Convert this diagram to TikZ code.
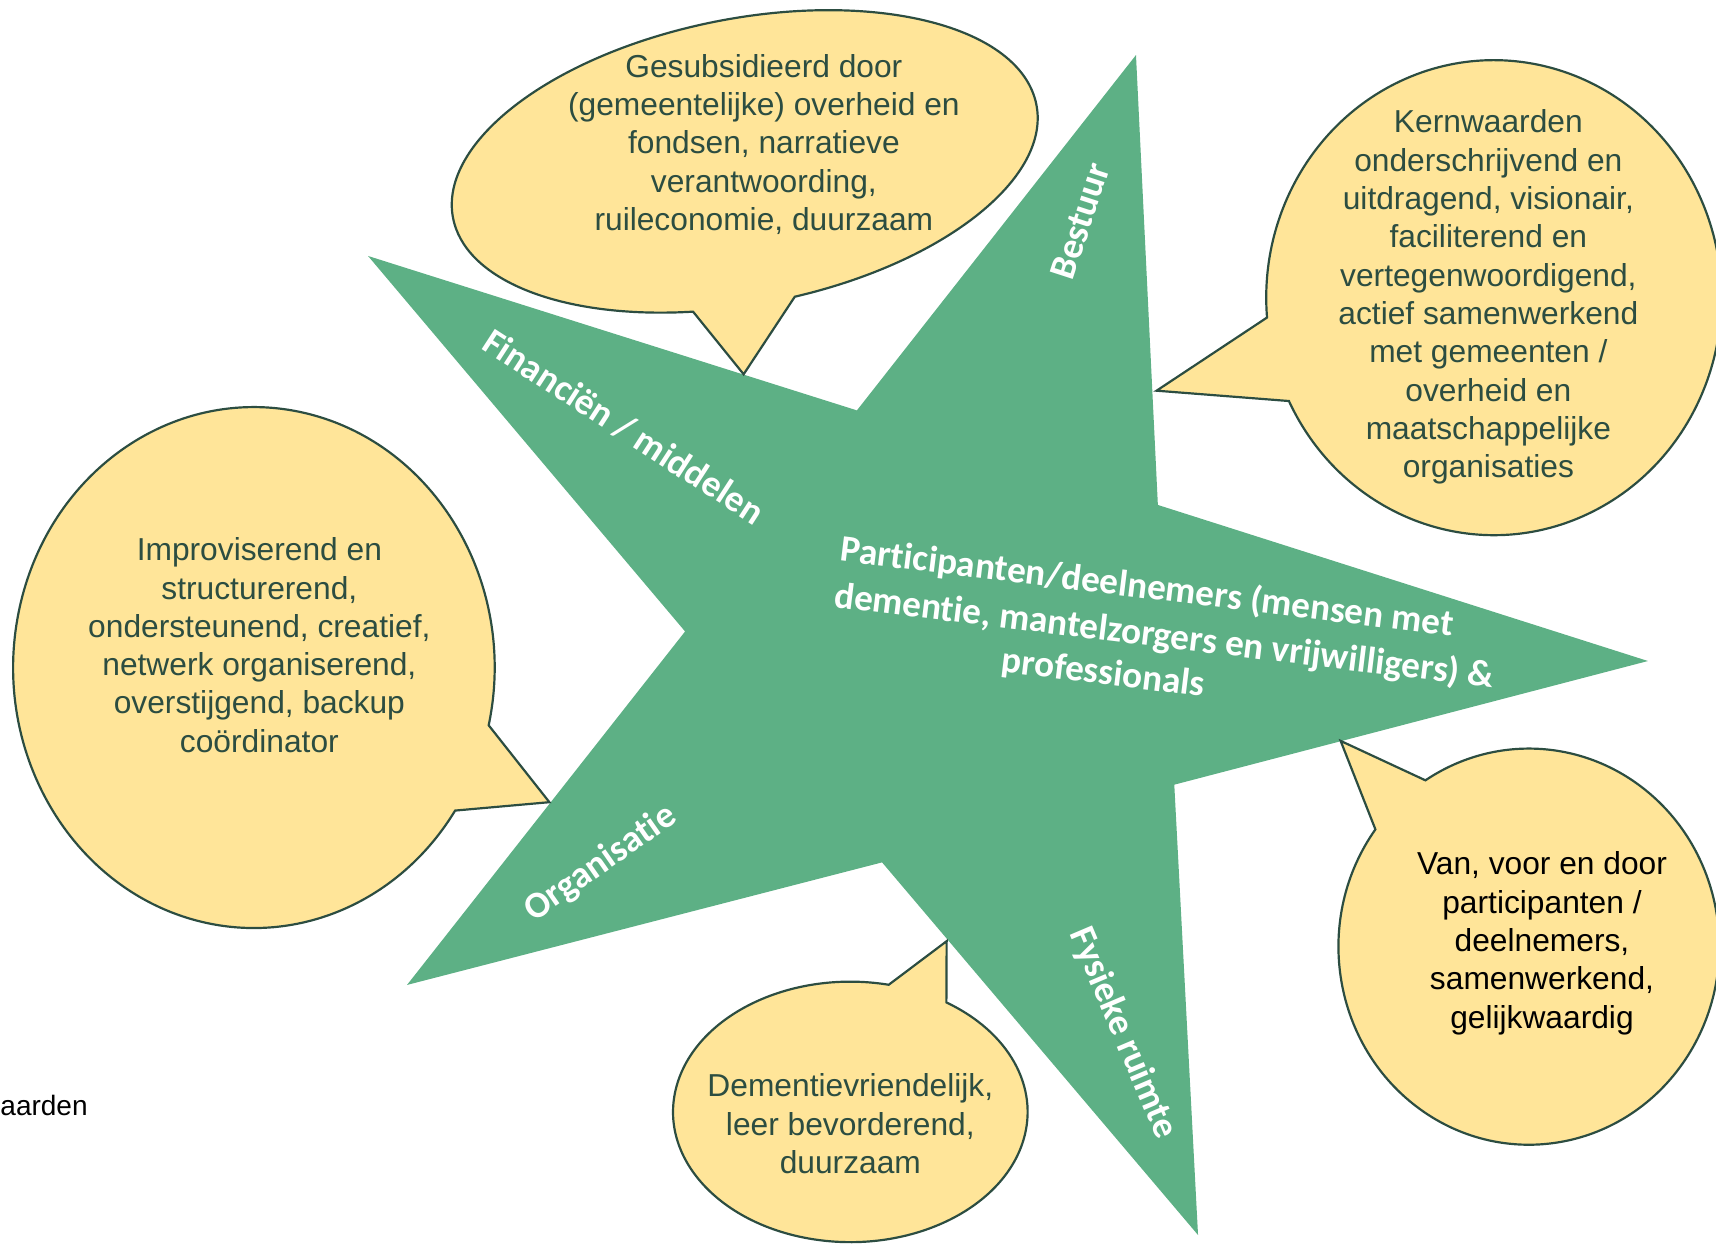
\documentclass[tikz,border=0pt]{standalone}
\usepackage{fontspec}
\setmainfont{Liberation Sans}
\newfontfamily\labelfont{Carlito}[Ligatures={NoCommon}]
\definecolor{stargreen}{RGB}{93,176,133}
\definecolor{bubblefill}{RGB}{255,229,153}
\definecolor{bubbleline}{RGB}{44,77,65}
\begin{document}
\begin{tikzpicture}[x=0.5pt,y=0.5pt,
  bubble/.style={fill=bubblefill, draw=bubbleline, line width=1pt, line join=miter},
  bubbletext/.style={align=center, text=bubbleline, font=\fontsize{14.5}{17.5}\selectfont, inner sep=0pt},
  starlabel/.style={text=white, font=\labelfont\bfseries\fontsize{17}{20}\selectfont, inner sep=0pt}]
\useasboundingbox (0,0) rectangle (1568,1137);

% star
\fill[stargreen] (1038,1086.7) -- (1058,675.6) -- (1505.8,533) -- (1073,420) -- (1094.7,8.5)
  -- (806,349) -- (371.9,237) -- (626,560) -- (336.3,903.1) -- (783,762) -- cycle;

% tail tips
\coordinate (tipA) at (679.5,795);
\coordinate (tipB) at (1056.8,780);
\coordinate (tipC) at (502,404);
\coordinate (tipD) at (865,277);
\coordinate (tipE) at (1225,460);

% bubbles
\begin{scope}[shift={(680.5,989.5)}, rotate=11]
  \draw[bubble] (-85.5:271.5 and 130.5) arc[start angle=-85.5, end angle=254.5, x radius=271.5, y radius=130.5] -- (tipA) -- cycle;
\end{scope}
\begin{scope}[shift={(1365,865)}]
  \draw[bubble] (205.8:208 and 217) arc[start angle=205.8, end angle=544.8, x radius=208, y radius=217] -- (tipB) -- cycle;
\end{scope}
\begin{scope}[shift={(232,527)}]
  \draw[bubble] (-12.8:220 and 238) arc[start angle=-12.8, end angle=326.7, x radius=220, y radius=238] -- (tipC) -- cycle;
\end{scope}
\begin{scope}[shift={(777,121)}]
  \draw[bubble] (77.5:162 and 119) arc[start angle=77.5, end angle=417.2, x radius=162, y radius=119] -- (tipD) -- cycle;
\end{scope}
\begin{scope}[shift={(1397,272)}]
  \draw[bubble] (143.7:174 and 181) arc[start angle=143.7, end angle=482.9, x radius=174, y radius=181] -- (tipE) -- cycle;
\end{scope}

% bubble texts
\node[bubbletext] (t1) at (698,1005) {Gesubsidieerd door\\(gemeentelijke) overheid en\\fondsen, narratieve\\verantwoording,\\ruileconomie, duurzaam};
\node[bubbletext] (t2) at (1360,865.5) {Kernwaarden\\onderschrijvend en\\uitdragend, visionair,\\faciliterend en\\vertegenwoordigend,\\actief samenwerkend\\met gemeenten /\\overheid en\\maatschappelijke\\organisaties};
\node[bubbletext] (t3) at (237,547.5) {Improviserend en\\structurerend,\\ondersteunend, creatief,\\netwerk organiserend,\\overstijgend, backup\\coördinator};
\node[bubbletext] (t4) at (777,110) {Dementievriendelijk,\\leer bevorderend,\\duurzaam};
\node[bubbletext, text=black] (t5) at (1409,275) {Van, voor en door\\participanten /\\deelnemers,\\samenwerkend,\\gelijkwaardig};

% star labels
\node[starlabel, rotate=-33] (fin) at (570,747) {Financiën / middelen};
\node[starlabel, rotate=72] (bes) at (987,935) {Bestuur};
\node[starlabel, rotate=35] (org) at (549,348) {Organisatie};
\node[starlabel, rotate=-67] (fys) at (1026,193) {Fysieke ruimte};
\node[starlabel, rotate=-7] (c1) at (1048,600) {Participanten/deelnemers (mensen met};
\node[starlabel, rotate=-7] (c2) at (1064,555) {dementie, mantelzorgers en vrijwilligers) \&};
\node[starlabel, rotate=-7] (c3) at (1008,521) {professionals};

% text at the left edge
\node[font=\fontsize{12.8}{15}\selectfont, anchor=base west, inner sep=0pt] (kw) at (0,118) {aarden};
\end{tikzpicture}
\end{document}
